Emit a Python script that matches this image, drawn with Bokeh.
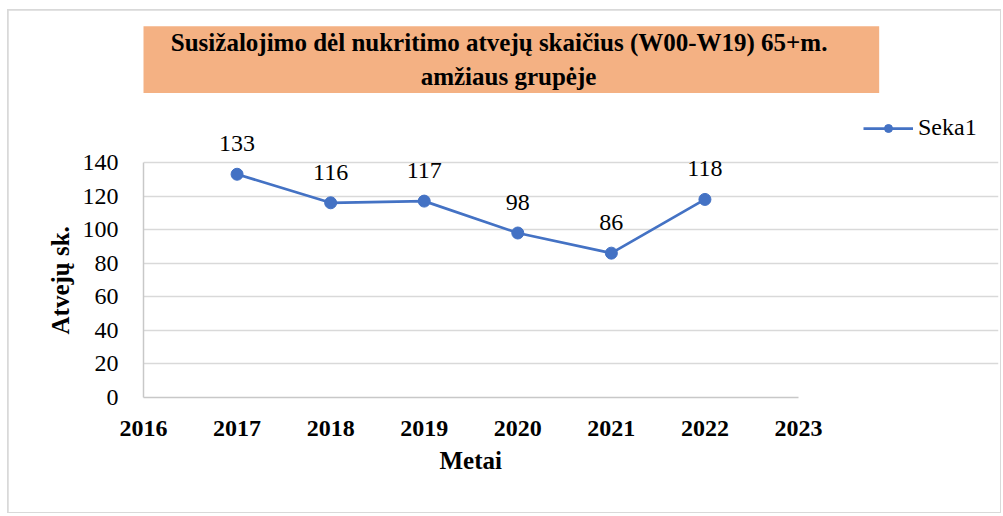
from bokeh.plotting import figure
from bokeh.models import (ColumnDataSource, LabelSet, Label, Legend, LegendItem,
                          Range1d, FixedTicker, Title)
from bokeh.embed import file_html
from bokeh.resources import INLINE

# ---- data ----
years = [2017, 2018, 2019, 2020, 2021, 2022]
cases = [133, 116, 117, 98, 86, 118]
x_ticks = [2016, 2017, 2018, 2019, 2020, 2021, 2022, 2023]
y_ticks = [0, 20, 40, 60, 80, 100, 120, 140]
series_name = "Seka1"
title_text = "Susižalojimo  dėl nukritimo  atvejų skaičius  (W00-W19) 65+m.\namžiaus grupėje"
x_title = "Metai"
y_title = "Atvejų sk."

FONT = "Liberation Serif"
BLUE = "#4472C4"

# plot area geometry (px): axis span inside a larger frame that also holds title/legend
AX_W, AX_H = 655, 235          # width of 2016..2023, height of 0..140
FR_W, FR_H = 855, 385          # whole frame
x_end = x_ticks[0] + (x_ticks[-1] - x_ticks[0]) * FR_W / AX_W
y_end = y_ticks[0] + (y_ticks[-1] - y_ticks[0]) * FR_H / AX_H

src = ColumnDataSource(dict(x=years, y=cases, lbl=[str(v) for v in cases]))

p = figure(width=992, height=502, output_backend="svg", toolbar_location=None,
           x_range=Range1d(x_ticks[0], x_end), y_range=Range1d(y_ticks[0], y_end),
           min_border_left=135, min_border_right=2, min_border_top=2, min_border_bottom=115)
p.outline_line_color = None
p.background_fill_color = "white"
p.border_fill_color = "white"
p.styles = {"margin-left": "8px", "margin-top": "10px",
            "outline": "2px solid #d9d9d9", "outline-offset": "-1px"}

# axes
p.xaxis.ticker = FixedTicker(ticks=x_ticks)
p.yaxis.ticker = FixedTicker(ticks=y_ticks)
p.xaxis.bounds = (x_ticks[0], x_ticks[-1])
p.yaxis.bounds = (y_ticks[0], y_ticks[-1])
for ax in (p.xaxis[0], p.yaxis[0]):
    ax.major_tick_out = 0
    ax.major_tick_in = 0
    ax.minor_tick_out = 0
    ax.minor_tick_in = 0
    ax.axis_line_color = "#c8c8c8"
    ax.axis_line_width = 1.5
    ax.major_label_text_font = FONT
    ax.major_label_text_color = "black"

p.yaxis.major_label_text_font_size = "24px"
p.yaxis.major_label_standoff = 25

p.xaxis.major_label_text_font_size = "24px"
p.xaxis.major_label_text_font_style = "bold"
p.xaxis.major_label_standoff = 23

# axis titles, placed along the 0..140 / 2016..2023 span
y_t = Title(text=y_title, align="left", offset=63, text_font=FONT, text_font_style="bold",
            text_font_size="25px", text_color="black", standoff=12)
p.add_layout(y_t, "left")
x_t = Title(text=x_title, align="left", offset=296, text_font=FONT, text_font_style="bold",
            text_font_size="25px", text_color="black", standoff=13)
p.add_layout(x_t, "below")

p.xgrid.grid_line_color = None
p.ygrid.ticker = FixedTicker(ticks=y_ticks)
p.ygrid.bounds = (x_ticks[0], x_ticks[-1])
p.ygrid.grid_line_color = "#d9d9d9"
p.ygrid.grid_line_width = 1.5

# series
ln = p.line("x", "y", source=src, line_color=BLUE, line_width=2.75)
sc = p.scatter("x", "y", source=src, size=12, fill_color=BLUE, line_color=BLUE)

labels = LabelSet(x="x", y="y", text="lbl", source=src, text_align="center",
                  text_baseline="alphabetic", y_offset=23, text_font=FONT,
                  text_font_size="24px", text_color="black")
p.add_layout(labels)

# legend
legend = Legend(items=[LegendItem(label=series_name, renderers=[ln, sc])],
                location=(720, 256), glyph_width=50, glyph_height=20,
                label_text_font=FONT, label_text_font_size="24px",
                label_text_color="black", border_line_color=None,
                background_fill_alpha=0, padding=0, margin=0, label_standoff=5)
p.add_layout(legend)

# title box
title = Label(x=365, y=338, x_units="screen", y_units="screen", text=title_text,
              text_align="center", text_baseline="middle", text_font=FONT,
              text_font_style="bold", text_font_size="25px", text_color="black",
              background_fill_color="#F4B183",
              padding=dict(left=33, right=33, top=3, bottom=3), text_line_height=1.25)
p.add_layout(title)

open("out.html", "w").write(file_html(p, INLINE))
